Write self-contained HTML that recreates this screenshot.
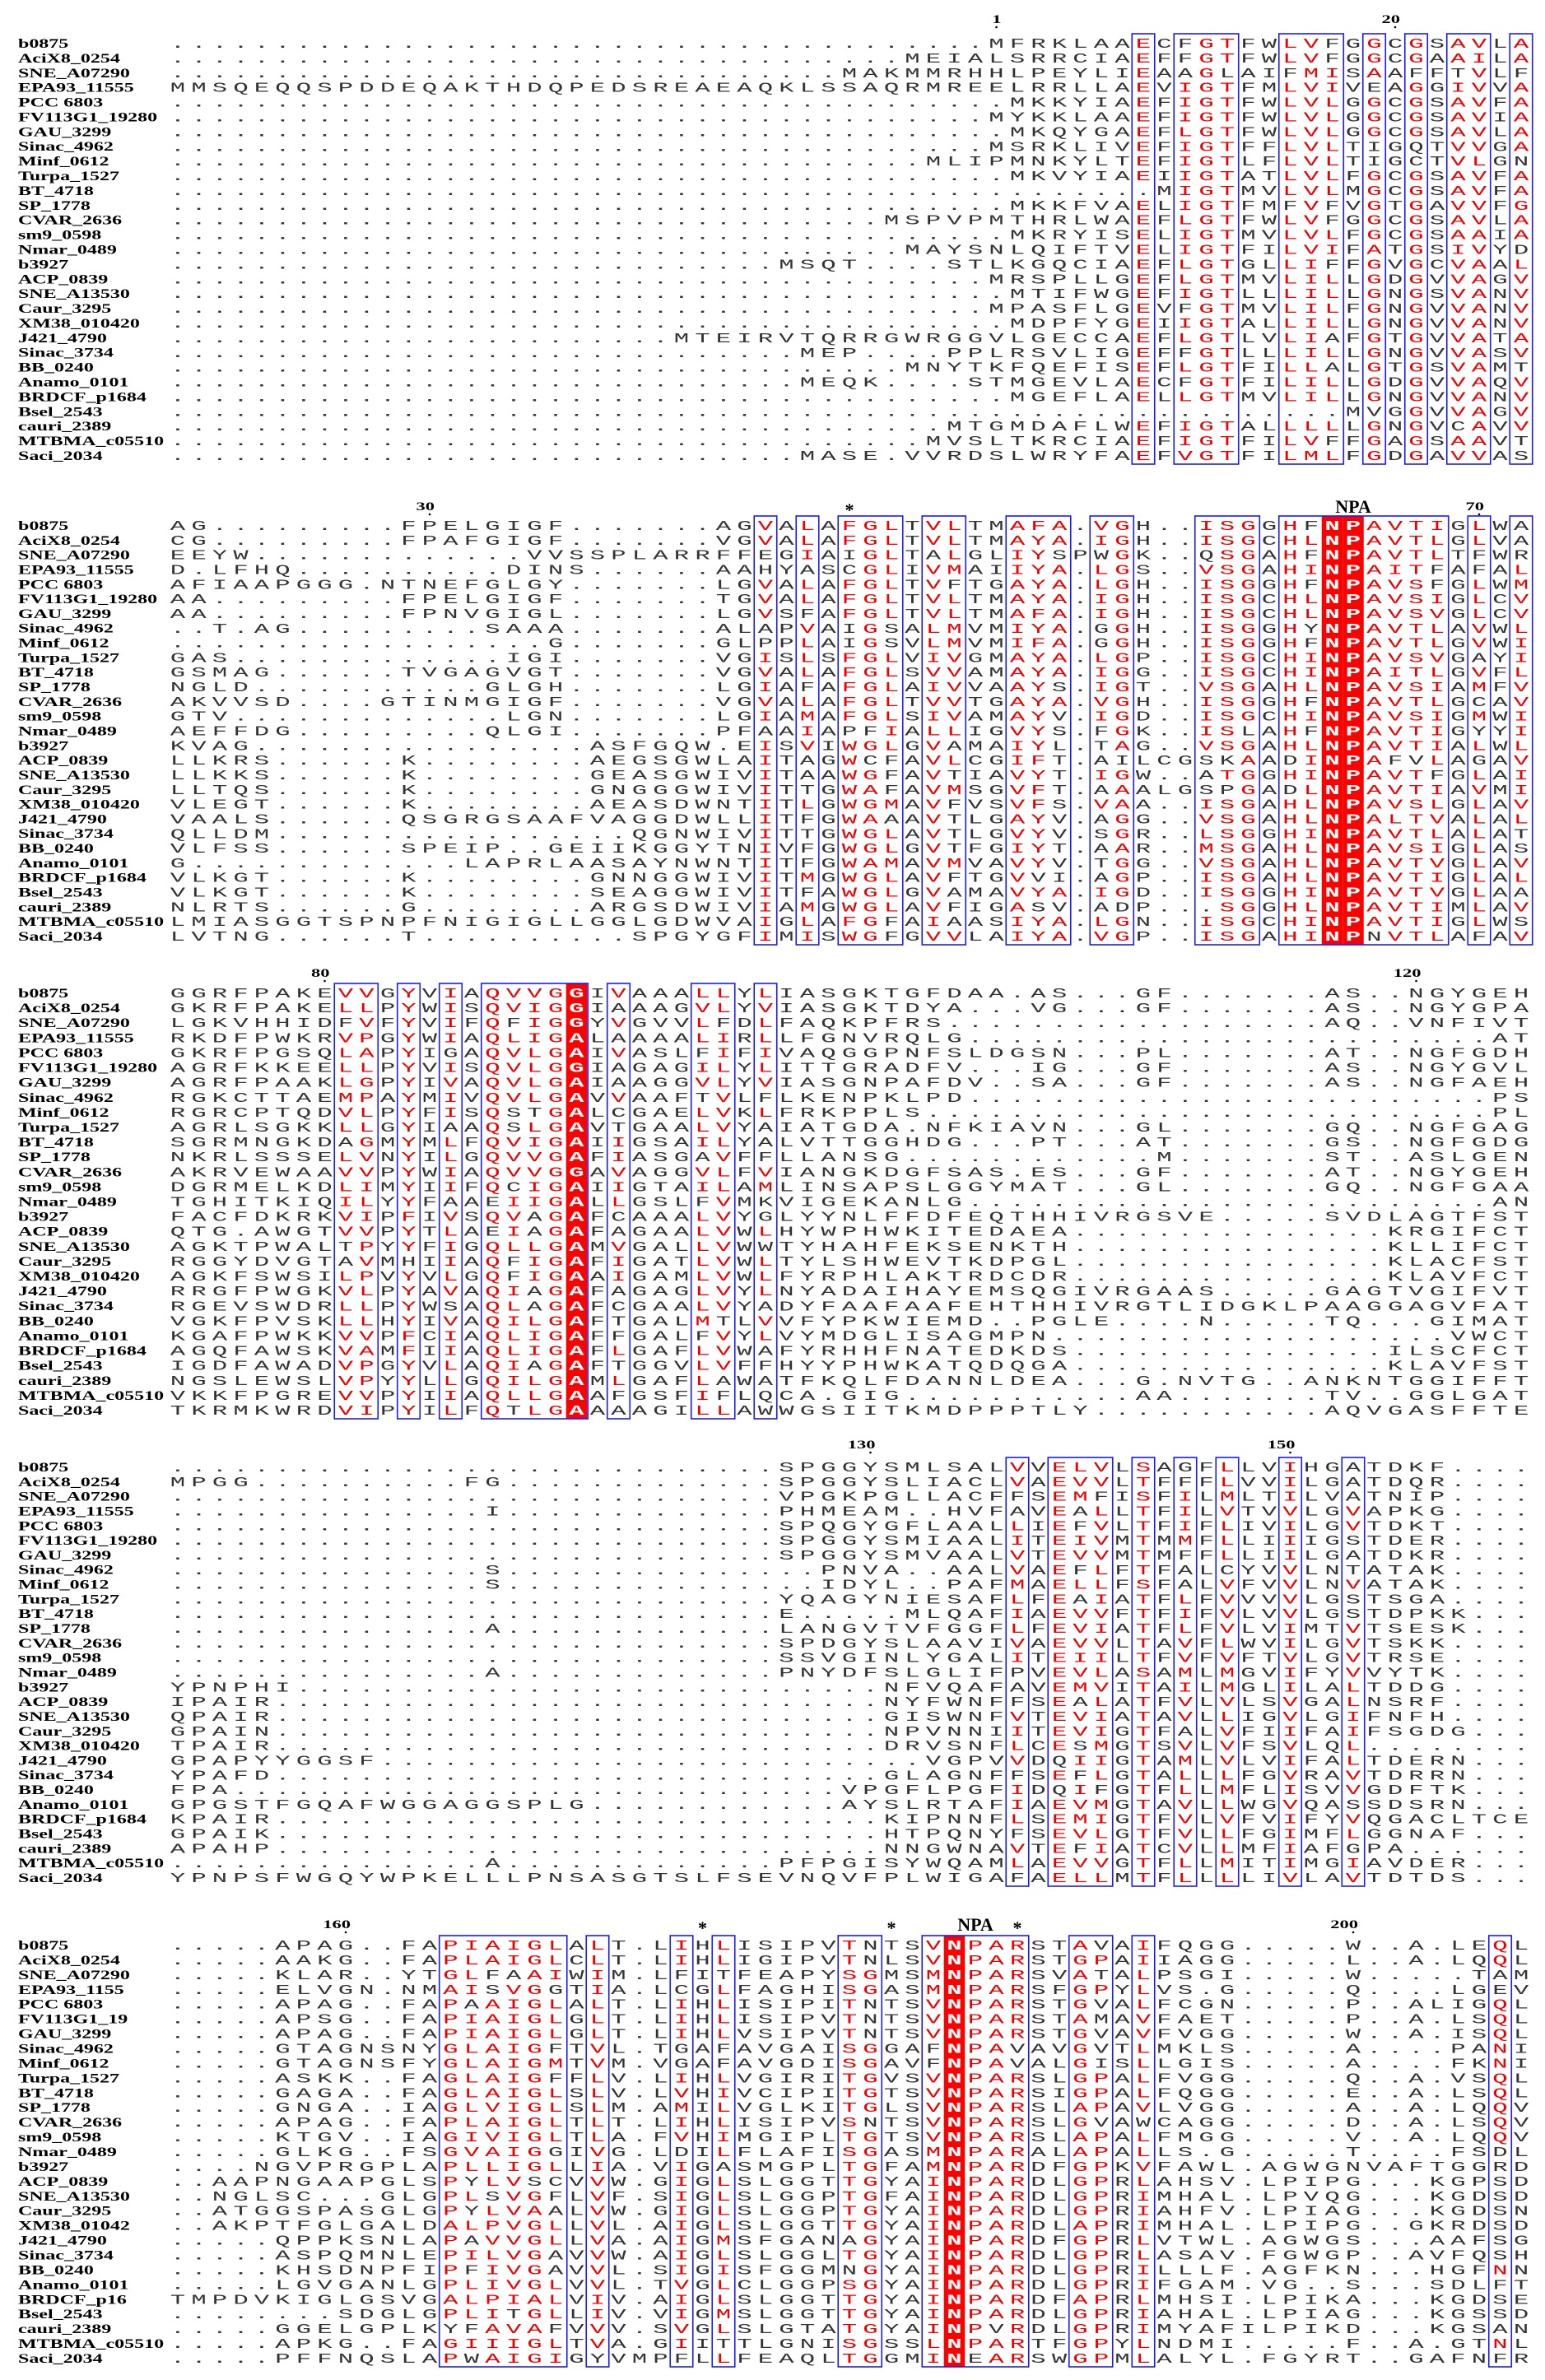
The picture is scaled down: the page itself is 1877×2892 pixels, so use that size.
<!DOCTYPE html>
<html><head><meta charset="utf-8"><title>NPA alignment</title>
<style>
html,body{margin:0;padding:0;background:#fff;}
svg{display:block;}
</style></head>
<body>
<svg id="aln" width="1877" height="2892" viewBox="0 0 1877 2892" xmlns="http://www.w3.org/2000/svg">
<rect x="0" y="0" width="1877" height="2892" fill="#fff"/>
<g id="boxes"></g>
<g id="names"></g>
<g id="seqs"></g>
<g id="ruler"></g>
</svg>
<script>
const d = n => '.'.repeat(n);
const NAMES = ["b0875","AciX8_0254","SNE_A07290","EPA93_11555","PCC 6803","FV113G1_19280","GAU_3299","Sinac_4962","Minf_0612","Turpa_1527","BT_4718","SP_1778","CVAR_2636","sm9_0598","Nmar_0489","b3927","ACP_0839","SNE_A13530","Caur_3295","XM38_010420","J421_4790","Sinac_3734","BB_0240","Anamo_0101","BRDCF_p1684","Bsel_2543","cauri_2389","MTBMA_c05510","Saci_2034"];
const NAMES5 = ["b0875","AciX8_0254","SNE_A07290","EPA93_1155","PCC 6803","FV113G1_19","GAU_3299","Sinac_4962","Minf_0612","Turpa_1527","BT_4718","SP_1778","CVAR_2636","sm9_0598","Nmar_0489","b3927","ACP_0839","SNE_A13530","Caur_3295","XM38_01042","J421_4790","Sinac_3734","BB_0240","Anamo_0101","BRDCF_p16","Bsel_2543","cauri_2389","MTBMA_c05510","Saci_2034"];

const SEQ1 = ["MFRKLAAECFGTFWLVFGGCGSAVLA","MEIALSRRCIAEFFGTFWLVFGGCGAAILA","MAKMMRHHLPEYLIEAAGLAIFMISAAFFTVLF","MMSQEQQSPDDEQAKTHDQPEDSREAEAQKLSSAQRMREELRRLLAEVIGTFMLVIVEAGGIVVA","MKKYIAEFIGTFWLVLGGCGSAVFA","MYKKLAAEFIGTFWLVLGGCGSAVIA","MKQYGAEFLGTFWLVLGGCGSAVLA","MSRKLIVEFIGTFFLVLTIGQTVVGA","MLIPMNKYLTEFIGTLFLVLTIGCTVLGN","MKVYIAEIIGTATLVLFGCGSAVFA","MIGTMVLVLMGCGSAVFA","MKKFVAELIGTFMFVFVGTGAVVFG","MSPVPMTHRLWAEFLGTFWLVFGGCGSAVLA","MKRYISELIGTMVLVLFGCGSAAIA","MAYSNLQIFTVELIGTFILVIFATGSIVYD","MSQT....STLKGQCIAEFLGTGLLIFFGVGCVAAL","MRSPLLGEFLGTMVLILLGDGVVAGV","MTIFWGEFIGTLLLILLGNGSVANV","MPASFLGEVFGTMVLILFGNGVVANV","MDPFYGEIIGTALLILLGNGVVANV","MTEIRVTQRRGWRGGVLGECCAEFLGTLVLIAFGTGVVATA","MEP....PPLRSVLIGEFFGTLLLILLGNGVVASV","MNYTKFQEFISEFLGTFILLALGTGSVAMT","MEQK....STMGEVLAECFGTFILILLGDGVVAQV","MGEFLAELLGTMVLILLGNGVVANV","MVGGVVAGV","MTGMDAFLWEFIGTALLLLLGNGVCAVV","MVSLTKRCIAEFIGTFILVFFGAGSAAVT","MASE.VVRDSLWRYFAEFVGTFILMLFGDGAVVAS"];

const SEQ2 = ["AG.........FPELGIGF.......AGVALAFGLTVLTMAFA.VGH..ISGGHFNPAVTIGLWA","CG.........FPAFGIGF.......VGVALAFGLTVLTMAYA.IGH..ISGCHLNPAVTLGLVA","EEYW"+d(13)+"VVSSPLARRFFEGIAIGLTALGLIYSPWGK..QSGAHFNPAVTLTFWR","D.LFHQ"+d(10)+"DINS"+d(6)+"AAHYASCGLIVMAIIYA.LGS..VSGAHINPAITFAFAL","AFIAAPGGG.NTNEFGLGY.......LGVALAFGLTVFTGAYA.LGH..ISGGHFNPAVSFGLWM","AA.........FPELGIGF.......TGVALAFGLTVLTMAYA.IGH..ISGCHLNPAVSIGLCV","AA.........FPNVGIGL.......LGVSFAFGLTVLTMAFA.IGH..ISGCHLNPAVSVGLCV","..T.AG.........SAAA.......ALAPVAIGSALMVMIYA.GGH..ISGGHYNPAVTLAVWL",d(18)+"G.......GLPPLAIGSVLMVMIFA.GGH..ISGGHFNPAVTLGVWI","GAS"+d(13)+"IGI.......VGISLSFGLVIVGMAYA.LGP..ISGCHINPAVSVGAYI","GSMAG......TVGAGVGT.......VGVALAFGLSVVAMAYA.IGG..ISGCHINPAITLGVFL","NGLD"+d(11)+"GLGH.......LGIAFAFGLAIVVAAYS.IGT..VSGAHLNPAVSIAMFV","AKVVSD....GTINMGIGF.......VGVALAFGLTVVTGAYA.VGH..ISGGHFNPAVTLGCAV","GTV"+d(13)+"LGN.......LGIAMAFGLSIVAMAYV.IGD..ISGCHINPAVSIGMWI","AEFFDG.........QLGI.......PFAAIAPFIALLIGVYS.FGK..ISLAHFNPAVTIGYYI","KVAG"+d(16)+"ASFGQW.EISVIWGLGVAMAIYL.TAG..VSGAHLNPAVTIALWL","LLKRS......K........AEGSGWLAITAGWCFAVLCGIFT.AILCGSKAADINPAFVLAGAV","LLKKS......K........GEASGWIVITAAWGFAVTIAVYT.IGW..ATGGHINPAVTFGLAI","LLTQS......K........GNGGGWIVITTGWAFAVMSGVFT.AAALGSPGADLNPAVTIAVMI","VLEGT......K........AEASDWNTITLGWGMAVFVSVFS.VAA..ISGAHLNPAVSLGLAV","VAALS......QSGRGSAAFVAGGDWLLITFGWAAAVTLGAYV.AGG..VSGAHLNPALTVALAL","QLLDM"+d(17)+"QGNWIVITTGWGLAVTLGVYV.SGR..LSGGHINPAVTLALAT","VLFSS......SPEIP..GEIIKGGYTNIVFGWGLGVTFGIYT.AAR..MSGAHLNPAVSIGLAS","G"+d(13)+"LAPRLAASAYNWNTITFGWAMAVMVAVYV.TGG..VSGAHLNPAVTVGLAV","VLKGT......K........GNNGGWIVITMGWGLAVFTGVVI.AGP..ISGAHLNPAVTIGLAL","VLKGT......K........SEAGGWIVITFAWGLGVAMAVYA.IGD..ISGGHINPAVTVGLAA","NLRTS......G........ARGSDWIVIAMGWGLAVFIGASV.ADP...SGGHLNPAVTIMLAV","LMIASGGTSPNPFNIGIGLLGGLGDWVAIGLAFGFAIAASIYA.LGN..ISGCHINPAVTIGLWS","LVTNG......T"+d(10)+"SPGYGFIMISWGFGVVLAIYA.VGP..ISGAHINPNVTLAFAV"];

const SEQ3 = ["GGRFPAKEVVGYVIAQVVGGIVAAALLYLIASGKTGFDAA.AS...GF.......AS..NGYGEH","GKRFPAKELLPYWISQVIGGIAAAGVLYVIASGKTDYA...VG...GF.......AS..NGYGPA","LGKVHHIDFVFYVIFQFIGGYVGVVLFDLFAQKPFRS"+d(18)+"AQ..VNFIVT","RKDFPWKRVPGYWIAQLIGALAAAALIRLLFGNVRQLG"+d(25)+"AT","GKRFPGSQLAPYIGAQVLGAIVASLFIFIVAQGGPNFSLDGSN...PL.......AT..NGFGDH","AGRFKKEELLPYVISQVLGGIAGAGILYLITTGRADFV...IG...GF.......AS..NGYGVL","AGRFPAAKLGPYIVAQVLGAIAAGGVLYVIASGNPAFDV..SA...GF.......AS..NGFAEH","RGKCTTAEMPAYMIVQVLGAVVAAFTVLFLKENPKLPD"+d(25)+"PS","RGRCPTQDVLPYFISQSTGALCGAELVKLFRKPPLS"+d(27)+"PL","AGRLSGKKLLGYIAAQSLGAVTGAALVYAIATGDA.NFKIAVN...GL.......GQ..NGFGAG","SGRMNGKDAGMYMLFQVIGAIIGSAILYALVTTGGHDG...PT...AT.......GS..NGFGDG","NKRLSSSELVNYILGQVVGAFIASGAVFFLLANSG"+d(12)+"M"+d(7)+"ST..ASLGEN","AKRVEWAAVVPYWIAQVVGGAVAGGVLFVIANGKDGFSAS.ES...GF.......AT..NGYGEH","DGRMELKDLIMYIIFQCIGAIIGTAILAMLINSAPSLGGYMAT...GL.......GQ..NGFGAA","TGHITKIQILYYFAAEIIGALLGSLFVMKVIGEKANLG"+d(25)+"AN","FACFDKRKVIPFIVSQVAGAFCAAALVYGLYYNLFFDFEQTHHIVRGSVE"+d(5)+"SVDLAGTFST","QTG.AWGTVVPYTLAEIAGAFAGAALVWLHYWPHWKITEDAEA"+d(15)+"KRGIFCT","AGKTPWALTPYYFIGQLLGAMVGALLVWWTYHAHFEKSENKTH"+d(15)+"KLLIFCT","RGGYDVGTAVMHIIAQFIGAFIGATLVWLTYLSHWEVTKDPGL"+d(15)+"KLACFST","AGKFSWSILPVYVLGQFIGAAIGAMLVWLFYRPHLAKTRDCDR"+d(15)+"KLAVFCT","RRGFPWGKVLPYAVAQIAGAFAGAGLVYLNYADAIHAYEMSQGIVRGAAS"+d(5)+"GAGTVGIFVT","RGEVSWDRLLPYWSAQLAGAFCGAALVYADYFAAFAAFEHTHHIVRGTLIDGKLPAAGGAGVFAT","VGKFPVSKLLHYIVAQILGAFTGALMTLVVFYPKWIEMD..PGLE....N.....TQ...GIMAT","KGAFPWKKVVPFCIAQLIGAFFGALFVYLVYMDGLISAGMPN"+d(19)+"VWCT","AGQFAWSKVAMFIIAQLIGAFLGAFLVWAFYRHHFNATEDKDS"+d(15)+"ILSCFCT","IGDFAWADVPGYVLAQIAGAFTGGVLVFFHYYPHWKATQDQGA"+d(15)+"KLAVFST","NGSLEWSLVPYYLLGQILGAMLGAFLAWATFKQLFDANNLDEA...G.NVTG..ANKNTGGIFFT","VKKFPGREVVPYIIAQLLGAAFGSFIFLQCA.GIG"+d(11)+"AA"+d(7)+"TV..GGLGAT","TKRMKWRDVIPYILFQTLGAAAAGILLAWWGSIITKMDPPPTLY"+d(11)+"AQVGASFFTE"];

const SEQ4 = [d(29)+"SPGGYSMLSALVVELVLSAGFLLVIHGATDKF....","MPGG"+d(10)+"FG"+d(13)+"SPGGYSLIACLVAEVVLTFFFLVVILGATDQR....",d(29)+"VPGKPGLLACFFSEMFISFILMLTILVATNIP....",d(15)+"I"+d(13)+"PHMEAM..HVFAVEALLTFILVTVVLGVAPKG....",d(29)+"SPQGYGFLAALLIEFVLTFIFLIVILGVTDKT....",d(29)+"SPGGYSMIAALITEIVMTMMFLLIIIGSTDER....",d(29)+"SPGGYSMVAALVTEVVMTMFFLLIILGATDKR....",d(15)+"S"+d(13)+"..PNVA..AALVAEFLFTFALCYVVLNTATAK....",d(15)+"S"+d(13)+"..IDYL..PAFMAELLFSFALVFVVLNVATAK....",d(29)+"YQAGYNIESAFLFEAIATFLFVVVVLGSTSGA....",d(29)+"E.....MLQAFIAEVVFTFIFVLVVLGSTDPKK...",d(15)+"A"+d(13)+"LANGVTVFGGFLFEVIATFLFVLVIMTVTSESK...",d(29)+"SPDGYSLAAVIVAEVVLTAVFLWVILGVTSKK....",d(29)+"SSVGINLYGALITEIILTFVFVFTVLGVTRSE....",d(15)+"A"+d(13)+"PNYDFSLGLIFPVEVLASAMLMGVIFYVVYTK....","YPNPHI"+d(28)+"NFVQAFAVEMVITAILMGLILALTDDG....","IPAIR"+d(29)+"NYFWNFFSEALATFVLVLSVGALNSRF....","QPAIR"+d(29)+"GISWNFVTEVIATAVLLIGVLGIFNFH....","GPAIN"+d(29)+"NPVNNIITEVIGTFALVFIIFAIFSGDG...","TPAIR"+d(29)+"DRVSNFLCESMGTSVLVFSVLQL........","GPAPYYGGSF"+d(26)+"VGPVVDQIIGTAMLVLVIFALTDERN...","YPAFD"+d(29)+"GLAGNFFSEFLGTALLLFGVRAVTDRRN...","FPA"+d(29)+"VPGFLPGFIDQIFGTFLLMFLISVVGDFTK...","GPGSTFGQAFWGGAGGSPLG"+d(12)+"AYSLRTAFIAEVMGTAVLLWGVQASSDSRN...","KPAIR"+d(29)+"KIPNNFLSEMIGTFVLVFVIFYVQGACLTCE","GPAIK"+d(29)+"HTPQNYFSEVLGTFVLLFGIMFLGGNAF...","APAHP"+d(29)+"NNGWNAVTEFIATCVLLMFIAFGPA......",d(15)+"A"+d(13)+"PFPGISYWQAMLAEVVGTFLLMITIMGIAVDER...","YPNPSFWGQYWPKELLLPNSASGTSLFSEVNQVFPLWIGAFAELLMTFLLLLIVLAVTDTDS..."];

const SEQ5 = [".....APAG..FAPIAIGLALT.LIHLISIPVTNTSVNPARSTAVAIFQGG.....W..A.LEQL",".....AAKG..FAPLAIGLCLT.LIHLIGIPVTNLSVNPARSTGPAIIAGG.....L..A.LQQL",".....KLAR..YTGLFAAIWIM.LFITFEAPYSGMSMNPARSVATALPSGI.....W.....TAM",".....ELVGN.NMAISVGGTIA.LCGLFAGHISGASMNPARSFGPYLVS.G.....Q....LGEV",".....APAG..FAPAAIGLALT.LIHLISIPITNTSVNPARSTGVALFCGN.....P..ALIGQL",".....APSG..FAPIAIGLGLT.LIHLISIPVTNTSVNPARSTAMAVFAET.....P..A.LSQL",".....APAG..FAPIAIGLGLT.LIHLVSIPVTNTSVNPARSTGVAVFVGG.....W..A.ISQL",".....GTAGNSNYGLAIGFTVL.TGAFAVGAISGGAFNPAVAVGVTLMKLS.....A....PANI",".....GTAGNSFYGLAIGMTVM.VGAFAVGDISGAVFNPAVALGISLLGIS.....A....FKNI",".....ASKK..FAGLAIGFFLV.LIHLVGIRITGVSVNPARSLGPALFVGG.....Q..A.VSQL",".....GAGA..FAGLAIGLSLV.LVHIVCIPITGTSVNPARSIGPALFQGG.....E..A.LSQL",".....GNGA..IAGLVIGLSLM.AMILVGLKITGLSVNPARSLAPAVLVGG.....A..A.LQQV",".....APAG..FAPLAIGLTLT.LIHLISIPVSNTSVNPARSLGVAWCAGG.....D..A.LSQV",".....KTGV..IAGIVIGLTLA.FVHIMGIPLTGTSVNPARSLAPALFMGG.....V..A.LQQV",".....GLKG..FSGVAIGGIVG.LDILFLAFISGASMNPARALAPALLS.G.....T....FSDL","....NGVPRGPLAPLLIGLLIA.VIGASMGPLTGFAMNPARDFGPKVFAWL.AGWGNVAFTGGRD","..AAPNGAAPGLSPYLVSCVVW.GIGLSLGGTTGYAINPARDLGPRLAHSV.LPIPG...KGPSD","..NGLSC...GLGPLSVGFLVF.SIGLSLGGPTGFAINPARDLGPRIMHAL.LPVQG...KGDSD","..ATGGSPASGLGPYLVAALVW.GIGLSLGGPTGYAINPARDLGPRIAHFV.LPIAG...KGDSN","..AKPTFGLGALDALPVGLLVL.AIGLSLGGTTGYAINPARDLAPRIMHAL.LPIPG..GKRDSD",".....QPPKSNLAPAVVGLLVA.AIGMSFGANAGYAINPARDFGPRLVTWL.AGWGS...AAFSG",".....ASPQMNLEPILVGAVVW.AIGLSLGGLTGYAINPARDLGPRLASAV.FGWGP..AVFQSH",".....KHSDNPFIPFIVGAVVL.SIGISFGGMNGYAINPARDLGPRILLLF.AGFKN...HGFNN",".....LGVGANLGPLIVGLVVL.TVGLCLGGPSGYAINPARDLGPRIFGAM.VG..S...SDLFT","TMPDVKIGLGSVGALPIALVIV.AIGLSLGGTTGYAINPARDFAPRLMHSI.LPIKA...KGDSE","........SDGLGPLITGLLIV.VIGMSLGGTTGYAINPARDLGPRIAHAL.LPIAG...KGSSD",".....GGELGPLKYFAVAFVVV.SVGLSLGTATGYAINPVRDLGPRIMYAFILPIKD...KGSAN",".....APKG..FAGIIIGLTVA.GIITTLGNISGSSLNPARTFGPYLNDMI.....F..A.GTNL",".....PFFNQSLAPWAIGIGYVMPFLLFEAQLTGGMINEARSWGPMLALYL.FGYRT..GAFNFR"];

const BOXES1 = [[46,46],[48,50],[53,55],[57,57],[59,59],[61,62],[64,64]];
const BOXES2 = [[28,28],[30,30],[32,34],[36,37],[40,42],[44,45],[49,51],[53,60],[62,62],[64,64]];
const BOXES3 = [[8,9],[11,11],[13,13],[15,19],[21,21],[25,26],[28,28]];
const BOXES4 = [[40,40],[42,44],[46,46],[48,48],[50,50],[53,53],[56,56]];
const BOXES5 = [[13,18],[20,20],[24,24],[26,26],[32,33],[36,40],[43,44],[46,46],[63,63]];
const SOLID1 = [], SOLID2 = [55,56], SOLID3 = [19], SOLID4 = [], SOLID5 = [37];
const RULER1 = [["1",39],["20",58]];
const RULER2 = [["30",12],["*",32],["NPA",56],["70",62]];
const RULER3 = [["80",7],["120",59]];
const RULER4 = [["130",33],["150",53]];
const RULER5 = [["160",8],["*",25],["*",34],["NPA",38],["*",40],["200",56]];

const BLOCKS = [
  {seq:SEQ1, names:NAMES, boxes:BOXES1, solid:SOLID1, ruler:RULER1, leftPad:true},
  {seq:SEQ2, names:NAMES, boxes:BOXES2, solid:SOLID2, ruler:RULER2},
  {seq:SEQ3, names:NAMES, boxes:BOXES3, solid:SOLID3, ruler:RULER3},
  {seq:SEQ4, names:NAMES, boxes:BOXES4, solid:SOLID4, ruler:RULER4},
  {seq:SEQ5, names:NAMES5, boxes:BOXES5, solid:SOLID5, ruler:RULER5}
];
const FIRST_Y = [52,638,1206,1782,2363];
const LAST_Y = [553,1137,1713,2281,2865];
const RULER_Y = [23,615,1182,1755,2338];
const NCOL = 65, X0 = 216, P = 25.5, SX = 1.8, NX = 1.5;
const NS = "http://www.w3.org/2000/svg";
const GROUPS = {I:1,L:1,V:1,M:1,F:2,Y:2,W:2,A:3,G:3,P:3,S:4,T:4,K:5,R:5,H:5,D:6,E:6,N:7,Q:7,C:8};

function fit(s, left){
  if (s.length < NCOL) s = left ? '.'.repeat(NCOL - s.length) + s : s + '.'.repeat(NCOL - s.length);
  if (s.length > NCOL) s = left ? s.slice(s.length - NCOL) : s.slice(0, NCOL);
  return s;
}
const cx = c => X0 + c * P;
const gB = document.getElementById('boxes'), gN = document.getElementById('names'), gS = document.getElementById('seqs'), gR = document.getElementById('ruler');

BLOCKS.forEach((b, bi) => {
  const rows = b.seq.map(s => fit(s, b.leftPad));
  const y0 = FIRST_Y[bi], pitch = (LAST_Y[bi] - y0) / (rows.length - 1);
  const top = y0 - 11, bot = LAST_Y[bi] + 11;
  const inBox = new Set(), solid = new Set(b.solid);
  b.boxes.forEach(([a, z]) => { for (let c = a; c <= z; c++) inBox.add(c); });
  const redGroups = {};
  inBox.forEach(c => {
    const cnt = {}; let n = 0;
    rows.forEach(r => { const g = GROUPS[r[c]]; if (g) { cnt[g] = (cnt[g] || 0) + 1; n++; } });
    redGroups[c] = new Set(Object.keys(cnt).filter(g => cnt[g] >= 0.3 * n).map(Number));
  });
  b.solid.forEach(c => {
    const r = document.createElementNS(NS, 'rect');
    
    
    r.setAttribute('x', cx(c) - P / 2); r.setAttribute('y', top);
    r.setAttribute('width', P); r.setAttribute('height', bot - top);
    r.setAttribute('fill', '#ff0000');
    gB.appendChild(r);
  });
  b.boxes.forEach(([a, z]) => {
    const r = document.createElementNS(NS, 'rect');
    
    
    r.setAttribute('x', cx(a) - P / 2 - 1); r.setAttribute('y', top);
    r.setAttribute('width', (z - a + 1) * P + 2); r.setAttribute('height', bot - top);
    r.setAttribute('fill', 'none'); r.setAttribute('stroke', '#1a1aff'); r.setAttribute('stroke-width', '1.6');
    gB.appendChild(r);
  });
  b.names.forEach((nm, i) => {
    const t = document.createElementNS(NS, 'text');
    
    
    t.setAttribute('x', 22 / NX); t.setAttribute('y', y0 + i * pitch + 6);
    t.setAttribute('transform', `scale(${NX},1)`);
    t.setAttribute('font-family', '"Liberation Serif", serif');
    t.setAttribute('font-weight', 'bold'); t.setAttribute('font-size', '16');
    t.textContent = nm;
    gN.appendChild(t);
  });
  const g = document.createElementNS(NS, 'g');
  
  
  g.setAttribute('transform', `scale(${SX},1)`);
  g.setAttribute('font-family', '"Liberation Mono", monospace');
  g.setAttribute('font-size', '17'); g.setAttribute('text-anchor', 'middle');
  rows.forEach((row, i) => {
    const y = y0 + i * pitch + 6;
    for (let c = 0; c < NCOL; c++) {
      const ch = row[c];
      const t = document.createElementNS(NS, 'text');
      
      
      t.setAttribute('x', (cx(c) / SX).toFixed(2)); t.setAttribute('y', y.toFixed(1));
      let fill = '#333';
      if (solid.has(c) && ch !== '.') { fill = '#fff'; t.setAttribute('font-weight', 'bold'); }
      else if (inBox.has(c) && GROUPS[ch] && redGroups[c].has(GROUPS[ch])) fill = '#ee0000';
      t.setAttribute('fill', fill);
      t.textContent = ch;
      g.appendChild(t);
    }
  });
  gS.appendChild(g);
  b.ruler.forEach(([lab, c]) => {
    const t = document.createElementNS(NS, 'text');
    
    
    t.setAttribute('font-family', '"Liberation Serif", serif');
    t.setAttribute('font-weight', 'bold');
    const ry = RULER_Y[bi];
    if (lab === 'NPA') {
      t.setAttribute('x', cx(c)); t.setAttribute('y', ry + 8);
      t.setAttribute('font-size', '22'); t.setAttribute('text-anchor', 'middle');
    } else if (lab === '*') {
      t.setAttribute('x', cx(c)); t.setAttribute('y', ry + 12);
      t.setAttribute('font-size', '22'); t.setAttribute('text-anchor', 'middle');
    } else {
      t.setAttribute('x', (cx(c) + 6) / NX); t.setAttribute('y', ry + 5);
      t.setAttribute('transform', `scale(${NX},1)`);
      t.setAttribute('font-size', '15'); t.setAttribute('text-anchor', 'end');
      const dot = document.createElementNS(NS, 'circle');
      
      
      dot.setAttribute('cx', cx(c)); dot.setAttribute('cy', ry + 10); dot.setAttribute('r', '1.3');
      dot.setAttribute('fill', '#000');
      gR.appendChild(dot);
    }
    t.textContent = lab;
    gR.appendChild(t);
  });
});
</script>
</body></html>
